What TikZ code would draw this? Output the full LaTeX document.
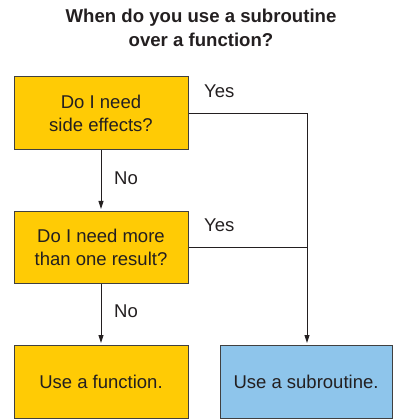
\documentclass[tikz,border=0pt]{standalone}
\usepackage{fontspec}
\setmainfont{Liberation Sans}
\usetikzlibrary{arrows.meta}
\definecolor{decision}{HTML}{FFCB05}
\definecolor{outcome}{HTML}{8EC5EB}
\definecolor{edge}{HTML}{404040}
\definecolor{ink}{HTML}{231F20}
\tikzset{
  box/.style={draw=edge, line width=1pt, minimum width=174pt, minimum height=73pt,
    inner sep=0pt, align=center, text=ink, font=\fontsize{18.5}{23}\selectfont},
  flow/.style={draw=ink, line width=0.9pt},
  arrowline/.style={flow, -{Triangle[length=8pt,width=5pt]}, shorten >=1.5pt},
  lbl/.style={text=ink, font=\fontsize{18.5}{20}\selectfont, inner sep=0pt}
}
\begin{document}
\begin{tikzpicture}[x=1pt,y=-1pt]
  \useasboundingbox (0,0) rectangle (393,419);
  % title
  \node[text=ink, align=center, font=\bfseries\fontsize{18.6}{24.5}\selectfont] (title) at (201,28)
    {When do you use a subroutine\\over a function?};
  % decisions and outcomes
  \node[box, fill=decision] (q1) at (101,113.5) {Do I need\\side effects?};
  \node[box, fill=decision, minimum height=72pt] (q2) at (101,247) {Do I need more\\than one result?};
  \node[box, fill=decision] (fn) at (101,381.5) {Use a function.};
  \node[box, fill=outcome, minimum width=172pt] (sub) at (306,381.5) {Use a subroutine.};
  % routing
  \coordinate (j1) at (307,113.5);
  \coordinate (j2) at (307,247);
  \draw[flow] (q1.east) -- (j1);
  \draw[flow] (q2.east) -- (j2);
  \draw[arrowline] (j1) -- (sub.north -| j1);
  \draw[arrowline] (q1.south) -- (q2.north);
  \draw[arrowline] (q2.south) -- (fn.north);
  % branch labels
  \node[lbl, anchor=west] (yes1) at (204,91) {Yes};
  \node[lbl, anchor=west] (yes2) at (204,225) {Yes};
  \node[lbl, anchor=west] (no1) at (114,178) {No};
  \node[lbl, anchor=west] (no2) at (114,311) {No};
\end{tikzpicture}
\end{document}
